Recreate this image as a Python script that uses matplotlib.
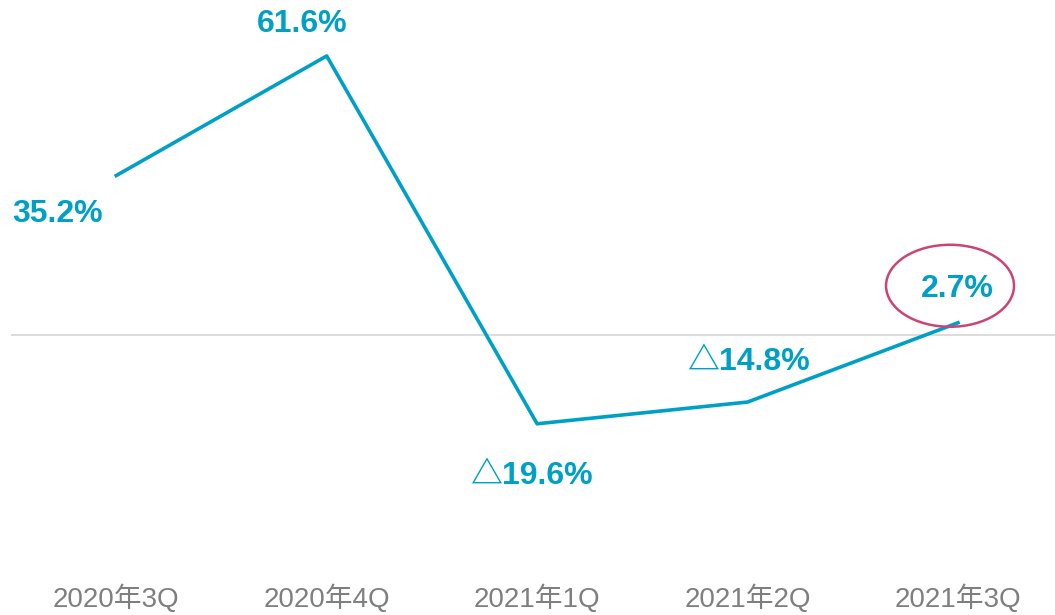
import numpy as np
import matplotlib.pyplot as plt
from matplotlib.patches import Ellipse

plt.rcParams['font.family'] = ['Liberation Sans', 'Noto Sans CJK JP', 'DejaVu Sans']

quarters = ['2020年3Q', '2020年4Q', '2021年1Q', '2021年2Q', '2021年3Q']
growth = [35.2, 61.6, -19.6, -14.8, 2.7]
labels = ['35.2%', '61.6%', '△19.6%', '△14.8%', '2.7%']

blue = '#00a0c6'
x = np.arange(len(quarters))

fig = plt.figure(figsize=(10.55, 6.15), dpi=100)
ax = fig.add_axes([11/1055, 55/615, 1044/1055, 560/615])

ax.axhline(0, color='#d9d9d9', lw=1.3, zorder=1)
ax.plot(x, growth, color=blue, lw=2.6, zorder=2)

# label offsets in pixels (dx, dy)
offs = [(-59, -38), (-24, 32), (-6, -52), (1, 40), (-1, 34)]
for xi, yi, lab, (dx, dy) in zip(x, growth, labels, offs):
    ax.annotate(lab, (xi, yi), xytext=(dx, dy), textcoords='offset pixels',
                ha='center', va='center', fontsize=23, fontweight='bold', color=blue)

ax.set_xlim(-0.5, (1055 - 116) / 210.5)
ax.set_ylim(-225 / 4.53, 335 / 4.53)

# highlight ring round the last label
ax.add_patch(Ellipse((x[-1] - 8 / 210.5, growth[-1] + 37 / 4.53), 128 / 210.5, 82 / 4.53,
                     fill=False, ec='#cc4474', lw=1.8, zorder=3))

ax.set_xticks(x)
ax.set_xticklabels(quarters, fontsize=20, color='#7f7f7f')
ax.tick_params(axis='x', length=0, pad=18)
ax.set_yticks([])
for s in ax.spines.values():
    s.set_visible(False)

plt.savefig('out.png', dpi=100)
